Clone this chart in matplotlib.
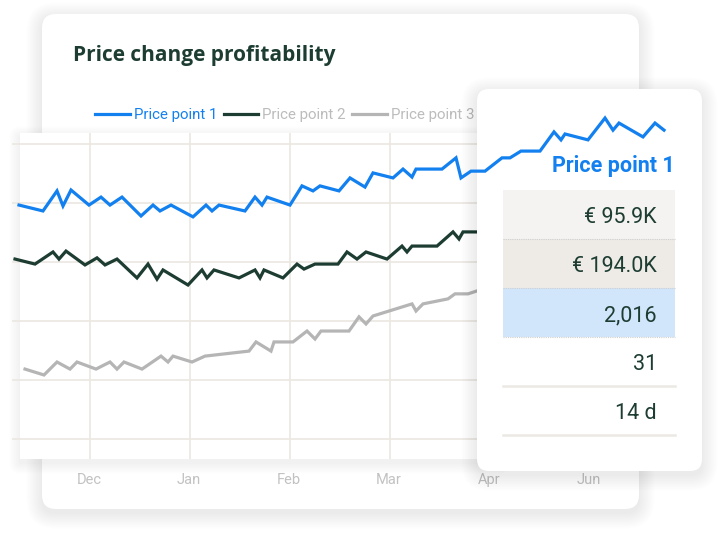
import matplotlib.pyplot as plt
from matplotlib.patches import FancyBboxPatch, Rectangle
from matplotlib.lines import Line2D

# x = months after 1 Dec, y = profit (k EUR), grid every 20
pp1_x = [-0.71, -0.47, -0.33, -0.27, -0.19, -0.01, 0.11, 0.20, 0.32, 0.51, 0.63, 0.70, 0.81,
         1.03, 1.16, 1.22, 1.29, 1.55, 1.65, 1.72, 1.77, 2.00, 2.12, 2.23, 2.30, 2.49, 2.60,
         2.75, 2.83, 3.03, 3.13, 3.22, 3.26, 3.52, 3.66, 3.71, 3.81, 3.95, 4.12, 4.20, 4.31,
         4.50, 4.64, 4.71, 4.75, 4.98, 5.15, 5.23, 5.29, 5.53, 5.65, 5.74]
pp1_y = [79.3, 77.3, 84.1, 79.0, 84.4, 79.3, 82.0, 79.3, 82.0, 75.6, 79.3, 77.3, 79.3,
         75.3, 79.3, 77.3, 79.3, 77.3, 82.0, 79.3, 82.0, 79.3, 85.8, 84.1, 85.8, 84.1, 88.5,
         85.4, 90.2, 88.5, 91.5, 88.8, 91.5, 91.5, 95.3, 88.5, 90.8, 90.8, 95.3, 95.3, 97.6,
         97.6, 104.1, 101.4, 103.4, 101.4, 108.8, 104.7, 107.1, 102.4, 107.1, 104.7]

pp2_x = [-0.75, -0.55, -0.37, -0.31, -0.24, -0.05, 0.07, 0.15, 0.27, 0.47, 0.58, 0.67, 0.73,
         0.98, 1.12, 1.17, 1.24, 1.49, 1.65, 1.70, 1.74, 1.93, 2.07, 2.14, 2.25, 2.48, 2.57,
         2.67, 2.76, 2.97, 3.12, 3.17, 3.22, 3.47, 3.63, 3.69, 3.73, 3.87, 3.95]
pp2_y = [61.0, 59.3, 63.4, 61.0, 63.7, 59.0, 61.4, 59.0, 61.0, 54.6, 59.3, 54.2, 57.3,
         52.2, 57.3, 54.6, 57.3, 54.6, 57.3, 54.6, 57.3, 54.6, 59.3, 57.6, 59.3, 59.3, 63.4,
         61.0, 63.4, 61.0, 65.4, 63.4, 65.4, 65.4, 70.2, 67.8, 70.2, 70.2, 70.2]

pp3_x = [-0.65, -0.46, -0.33, -0.20, -0.13, 0.06, 0.20, 0.27, 0.34, 0.52, 0.71, 0.78, 0.83,
         1.02, 1.15, 1.59, 1.66, 1.81, 1.84, 2.03, 2.17, 2.25, 2.31, 2.59, 2.69, 2.76, 2.83,
         3.22, 3.26, 3.33, 3.58, 3.65, 3.78, 3.87, 3.95]
pp3_y = [23.7, 21.7, 26.1, 23.7, 26.1, 23.7, 26.1, 23.7, 26.1, 23.7, 28.1, 26.1, 28.1,
         26.1, 28.1, 29.8, 32.9, 29.8, 32.9, 32.9, 36.6, 33.9, 36.6, 36.6, 41.4, 39.0, 41.7,
         45.8, 43.4, 45.8, 47.5, 49.2, 49.2, 50.2, 50.8]

series_names = ['Price point 1', 'Price point 2', 'Price point 3']
months = ['Dec', 'Jan', 'Feb', 'Mar', 'Apr', 'Jun']
month_pos = [0, 1, 2, 3, 4, 5]
grid_y = [0, 20, 40, 60, 80, 100]

row_values = ['€ 95.9K', '€ 194.0K', '2,016', '31', '14 d']
row_colors = ['#f4f3f1', '#eeebe6', '#d2e6fb', 'white', 'white']

BLUE = '#1380f0'
GREEN = '#1d3d33'
GREY = '#b5b5b5'
LIGHT = '#bcbcbc'
GRID = '#ebe8e2'

W, H = 722, 534
fig = plt.figure(figsize=(W / 100, H / 100), dpi=100)
fig.patch.set_facecolor('white')


def pixel_axes(z):
    a = fig.add_axes([0, 0, 1, 1], zorder=z)
    a.set_xlim(0, W)
    a.set_ylim(H, 0)
    a.axis('off')
    a.patch.set_alpha(0)
    return a


def card(a, x, y, w, h, r, z, fc='white', layers=10):
    # soft drop shadow made of stacked translucent boxes
    for i in range(layers):
        s = 1 + i * 1.6
        a.add_patch(FancyBboxPatch((x - s, y - s + 4), w + 2 * s, h + 2 * s,
                                   boxstyle=f'round,pad=0,rounding_size={r + s}',
                                   fc='black', ec='none', alpha=0.009, zorder=z))
    a.add_patch(FancyBboxPatch((x, y), w, h, boxstyle=f'round,pad=0,rounding_size={max(r, 0.5)}',
                               fc=fc, ec='none', zorder=z + 0.1))


# background card with title
bg = pixel_axes(0)
card(bg, 42, 14, 597, 495, 14, 1)
bg.text(73, 55, 'Price change profitability', fontsize=15, fontweight='bold',
        color=GREEN, family='Open Sans', va='center', ha='left')
# chart panel
card(bg, 20, 133, 480, 326, 0.5, 2, layers=7)

# chart axes
ax = fig.add_axes([12 / W, 1 - 459 / H, 478 / W, 326 / H], zorder=1)
ax.patch.set_alpha(0)
xlim = (-0.78, 4.0)
ylim = (-20 * 20 / 59, 306 * 20 / 59)
ax.set_xlim(*xlim)
ax.set_ylim(*ylim)
for sp in ax.spines.values():
    sp.set_visible(False)
ax.set_xticks([])
ax.set_yticks([])
for gy in grid_y:
    ax.axhline(gy, color=GRID, lw=1.2, zorder=0)
for gx in month_pos[:5]:
    ax.axvline(gx, color=GRID, lw=1.2, zorder=0)

ax.plot(pp3_x, pp3_y, color=GREY, lw=2.3, zorder=3, solid_joinstyle='miter')
ax.plot(pp2_x, pp2_y, color=GREEN, lw=2.3, zorder=3, solid_joinstyle='miter')

for m, p in zip(months, month_pos):
    ax.text(p - 0.01, -0.065, m, transform=ax.get_xaxis_transform(), ha='center', va='center',
            fontsize=10.5, color='#c2c2c2', family='Roboto', clip_on=False)

handles = [Line2D([], [], color=c, lw=2.3) for c in (BLUE, GREEN, GREY)]
leg = ax.legend(handles, series_names, loc='center left', ncol=3, frameon=False,
                bbox_to_anchor=(95 / W, 1 - 115 / H), bbox_transform=fig.transFigure,
                prop={'family': 'Roboto', 'size': 10.8}, handlelength=2.3, handletextpad=0.3,
                columnspacing=0.4, borderpad=0, borderaxespad=0)
for t, c in zip(leg.get_texts(), (BLUE, LIGHT, LIGHT)):
    t.set_color(c)

# tooltip card
ov = pixel_axes(2)
card(ov, 477, 89, 225, 382, 12, 1)
ov.text(675, 166, series_names[0], ha='right', va='center', fontsize=15.5, fontweight='bold',
        color=BLUE, family='Roboto')
row_top, row_h = 190, 49
for i, (val, fc) in enumerate(zip(row_values, row_colors)):
    top = row_top + i * row_h
    ov.add_patch(Rectangle((503, top), 172, row_h, fc=fc, ec='none', zorder=2))
    ov.text(657, top + row_h / 2 + 3, val, ha='right', va='center', fontsize=15.5,
            color=GREEN, family='Roboto', zorder=3)
    if i < 3:
        ov.plot([503, 675], [top + row_h, top + row_h], color='#cfcfcf', lw=0.8,
                ls=(0, (1, 1)), zorder=3)
    else:
        ov.plot([503, 675], [top + row_h, top + row_h], color='#ece9e4', lw=1.8, zorder=3)

# price point 1 runs on top of the tooltip
top_ax = fig.add_axes(ax.get_position(), zorder=3)
top_ax.set_xlim(*xlim)
top_ax.set_ylim(*ylim)
top_ax.axis('off')
top_ax.patch.set_alpha(0)
top_ax.plot(pp1_x, pp1_y, color=BLUE, lw=2.3, clip_on=False, solid_joinstyle='miter')

fig.savefig('out.png', dpi=100)
